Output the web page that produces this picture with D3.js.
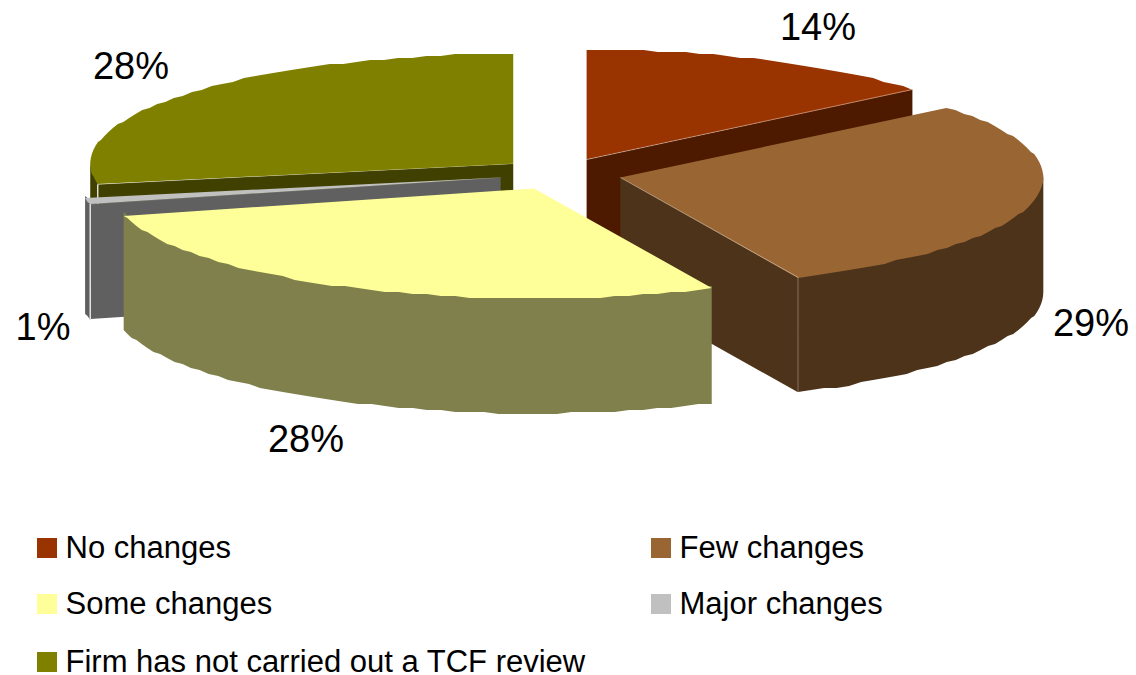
<!DOCTYPE html>
<html>
<head>
<meta charset="utf-8">
<style>
  html, body { margin: 0; padding: 0; background: #fff; overflow: hidden; }
  text { font-family: "Liberation Sans", Arial, sans-serif; fill: #000; }
</style>
</head>
<body>
<div id="chart"></div>
<script src="https://cdn.jsdelivr.net/npm/d3@7/dist/d3.min.js"></script>
<script>
// Chart data (slice sizes, labels show them rounded)
var categories = ["No changes", "Few changes", "Some changes", "Major changes", "Firm has not carried out a TCF review"];
var shares = [14, 29.1, 28, 0.9, 28];
var colors = ["#993300", "#996633", "#FFFF99", "#C0C0C0", "#808000"];

// Layout
var svgWidth = 1136;
var svgHeight = 675;
var center = { x: 560.5, y: 174 };
var radius = { x: 423, y: 110 };
var depth = 115;
var explode = 0.145;
var labelSpots = [[818, 40], [1091, 336], [306, 452], [43, 340], [131, 79]];
var legendCols = [37, 651];
var legendRows = [538, 594, 652];

var svg = d3.select("#chart")
    .append("svg")
    .attr("width", svgWidth)
    .attr("height", svgHeight)
    .style("display", "block");

// unit circle -> flattened pie plane
var xScale = d3.scaleLinear().domain([-1, 1]).range([center.x - radius.x, center.x + radius.x]);
var yScale = d3.scaleLinear().domain([-1, 1]).range([center.y + radius.y, center.y - radius.y]);

var pie = d3.pie().sort(null).value(d => d);
var slices = pie(shares).map(function(d, i) {
    var mid = (d.startAngle + d.endAngle) / 2;
    return {
        index: i,
        start: d.startAngle,
        end: d.endAngle,
        ox: explode * Math.sin(mid),
        oy: explode * Math.cos(mid)
    };
});

// point on a slice: r = 0 is its tip, r = 1 is its rim
function pt(s, angle, r, drop) {
    return [
        xScale(s.ox + r * Math.sin(angle)),
        yScale(s.oy + r * Math.cos(angle)) + (drop || 0)
    ];
}

// rim samples, snapped to whole pixels so the edge stays slightly rough like the original
function rim(s, from, to, drop) {
    var n = Math.max(1, Math.ceil((to - from) / (Math.PI / 90)));
    return d3.range(n + 1).map(function(k) {
        var p = pt(s, from + (to - from) * k / n, 1, drop);
        return [p[0], Math.round(p[1] / 2) * 2];
    });
}

var line = d3.line();
function closed(points) { return line(points) + "Z"; }

// back slices first
slices.slice().sort((a, b) => b.oy - a.oy).forEach(function(s) {
    var g = svg.append("g").attr("class", "slice");
    var top = colors[s.index];
    var wall = d3.interpolateRgb(top, "#000")(0.5);

    // flat cut faces that turn towards the viewer
    var faceAngle = null;
    if (s.end < Math.PI) faceAngle = s.end;
    else if (s.start > Math.PI) faceAngle = s.start;
    if (faceAngle !== null) {
        g.append("path")
            .attr("d", closed([pt(s, faceAngle, 0), pt(s, faceAngle, 1), pt(s, faceAngle, 1, depth), pt(s, faceAngle, 0, depth)]))
            .attr("fill", wall);
    }

    // curved outer wall, front half only (its top runs a little under the top face)
    var from = Math.max(s.start, Math.PI / 2);
    var to = Math.min(s.end, Math.PI * 1.5);
    if (from < to) {
        g.append("path")
            .attr("d", closed(rim(s, from, to, -3).concat(rim(s, from, to, depth).reverse())))
            .attr("fill", wall);
    }

    // top face
    g.append("path")
        .attr("d", closed([pt(s, s.start, 0)].concat(rim(s, s.start, s.end, 0))))
        .attr("fill", top);

    // thin light edges along the cut
    if (faceAngle !== null) {
        var rightSide = s.end < Math.PI;
        g.append("path")
            .attr("d", line([pt(s, faceAngle, 0), pt(s, faceAngle, 1)]))
            .attr("fill", "none")
            .attr("stroke", "#fff")
            .attr("stroke-opacity", rightSide ? 0.4 : 0.12);
        g.append("path")
            .attr("d", line([pt(s, faceAngle, 1), pt(s, faceAngle, 1, depth)]))
            .attr("fill", "none")
            .attr("stroke", "#fff")
            .attr("stroke-width", rightSide ? 1 : 1.5)
            .attr("stroke-opacity", rightSide ? 0.3 : 0.8);
    }
});

// percent labels
svg.selectAll("text.pct")
    .data(shares)
    .enter()
    .append("text")
    .attr("class", "pct")
    .attr("x", (d, i) => labelSpots[i][0])
    .attr("y", (d, i) => labelSpots[i][1])
    .attr("text-anchor", "middle")
    .attr("font-size", "38px")
    .text(d => Math.round(d) + "%");

// legend, two columns filled row by row
var legend = svg.selectAll("g.legend")
    .data(categories)
    .enter()
    .append("g")
    .attr("class", "legend")
    .attr("transform", (d, i) => `translate(${legendCols[i % 2]}, ${legendRows[Math.floor(i / 2)]})`);

legend.append("rect")
    .attr("width", 20)
    .attr("height", 20)
    .attr("fill", (d, i) => colors[i]);

legend.append("text")
    .attr("x", 28.5)
    .attr("y", 20)
    .attr("font-size", "31px")
    .text(d => d);
</script>
</body>
</html>
